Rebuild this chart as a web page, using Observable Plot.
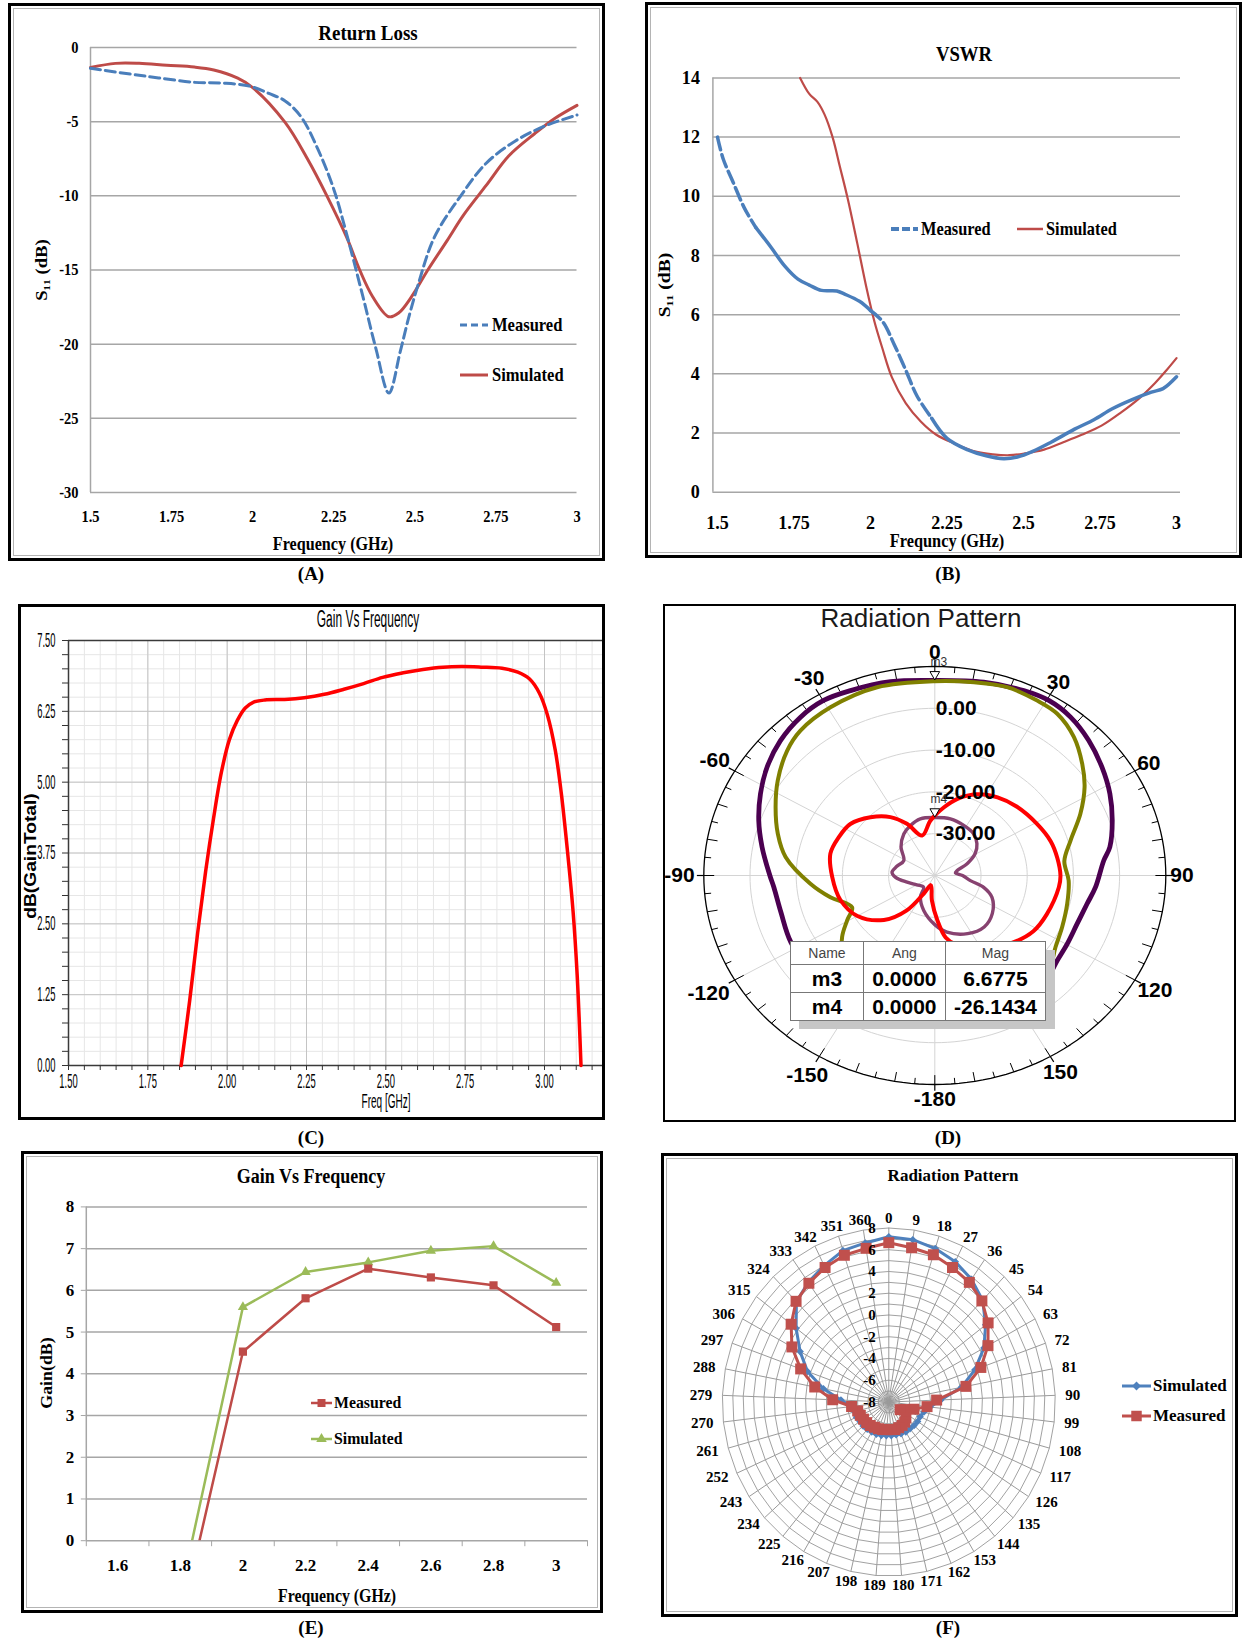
<!DOCTYPE html>
<html>
<head>
<meta charset="utf-8">
<script src="https://cdn.jsdelivr.net/npm/d3@7"></script>
<script src="https://cdn.jsdelivr.net/npm/@observablehq/plot@0.6"></script>
<style>
html, body { margin: 0; padding: 0; background: #fff; }
body { position: relative; width: 1243px; height: 1641px; overflow: hidden; }
.t { position: absolute; white-space: nowrap; line-height: 1; color: #000; }
</style>
</head>
<body>
<script>
// ================= DATA =================
// (A) Return loss
const rlFreqTicks = [1.5, 1.75, 2, 2.25, 2.5, 2.75, 3];
const rlDbTicks = [0, -5, -10, -15, -20, -25, -30];
const rlMeasFreq = [1.5, 1.625, 1.71, 1.82, 1.905, 1.99, 2.05, 2.1, 2.15, 2.2, 2.25, 2.29, 2.34, 2.38, 2.42, 2.455, 2.48, 2.51, 2.56, 2.64, 2.72, 2.81, 2.9, 3.0];
const rlMeasDb = [-1.4, -1.8, -2.05, -2.35, -2.4, -2.6, -3.1, -3.6, -4.7, -6.8, -9.55, -12.6, -16.8, -20.3, -23.3, -20.5, -18.3, -16.0, -12.8, -10.05, -7.8, -6.3, -5.3, -4.55];
const rlSimFreq = [1.5, 1.577, 1.65, 1.735, 1.82, 1.88, 1.954, 2.0, 2.1, 2.17, 2.23, 2.29, 2.33, 2.37, 2.42, 2.45, 2.49, 2.54, 2.6, 2.65, 2.72, 2.79, 2.87, 2.93, 3.0];
const rlSimDb = [-1.35, -1.07, -1.07, -1.2, -1.32, -1.52, -2.07, -2.7, -5.05, -7.55, -10.05, -12.8, -15.0, -16.8, -18.15, -17.9, -16.8, -15.0, -13.0, -11.3, -9.3, -7.3, -5.8, -4.8, -3.9];

// (B) VSWR
const vswrFreqTicks = [1.5, 1.75, 2, 2.25, 2.5, 2.75, 3];
const vswrTicks = [0, 2, 4, 6, 8, 10, 12, 14];
const vswrMeasFreq = [1.5, 1.519, 1.55, 1.588, 1.625, 1.676, 1.72, 1.763, 1.80, 1.84, 1.89, 1.914, 1.964, 2.0, 2.04, 2.077, 2.115, 2.152, 2.2, 2.25, 2.316, 2.378, 2.435, 2.48, 2.53, 2.59, 2.667, 2.73, 2.79, 2.855, 2.918, 2.956, 3.0];
const vswrMeasVal = [12.0, 11.25, 10.5, 9.6, 8.95, 8.26, 7.64, 7.2, 7.0, 6.82, 6.8, 6.7, 6.45, 6.14, 5.76, 5.0, 4.13, 3.25, 2.5, 1.82, 1.44, 1.23, 1.13, 1.19, 1.38, 1.69, 2.13, 2.45, 2.82, 3.13, 3.38, 3.5, 3.9];
const vswrSimFreq = [1.77, 1.80, 1.826, 1.85, 1.876, 1.90, 1.926, 1.957, 1.987, 2.013, 2.038, 2.07, 2.115, 2.165, 2.215, 2.278, 2.34, 2.40, 2.454, 2.504, 2.567, 2.63, 2.69, 2.755, 2.818, 2.88, 2.93, 2.968, 3.0];
const vswrSimVal = [14.0, 13.46, 13.2, 12.76, 12.0, 11.0, 9.9, 8.4, 6.9, 5.76, 4.89, 3.88, 3.01, 2.38, 1.94, 1.63, 1.38, 1.28, 1.25, 1.31, 1.44, 1.69, 1.94, 2.25, 2.69, 3.19, 3.69, 4.13, 4.53];

// (C) Simulated gain vs frequency (HFSS)
const hfssFreqTicks = [1.5, 1.75, 2, 2.25, 2.5, 2.75, 3];
const hfssGainTicks = [0, 1.25, 2.5, 3.75, 5, 6.25, 7.5];
const hfssFreq = [1.855, 1.882, 1.907, 1.932, 1.957, 1.982, 2.007, 2.032, 2.057, 2.082, 2.119, 2.181, 2.243, 2.306, 2.368, 2.43, 2.49, 2.555, 2.617, 2.68, 2.74, 2.80, 2.866, 2.916, 2.953, 2.984, 3.009, 3.034, 3.053, 3.071, 3.09, 3.103, 3.115];
const hfssGain = [0, 1.15, 2.34, 3.42, 4.36, 5.18, 5.75, 6.09, 6.31, 6.41, 6.45, 6.46, 6.49, 6.55, 6.64, 6.74, 6.85, 6.93, 6.99, 7.03, 7.04, 7.03, 7.01, 6.94, 6.82, 6.57, 6.19, 5.56, 4.8, 3.86, 2.72, 1.59, 0];

// (D) HFSS radiation pattern (dB, angle in degrees, clockwise from top)
const patRange = [-40, 10];
const patRingLevels = [-30, -20, -10, 0];
const patRingLabels = ["-30.00", "-20.00", "-10.00", "0.00"];
const patAngleLabels = [0, 30, 60, 90, 120, 150, -180, -150, -120, -90, -60, -30];
const patTotalAng = [-180, -166, -150, -135, -117, -104.8, -94.6, -90, -79.7, -71, -62.6, -54.5, -46, -37.5, -29.9, -22.4, -11.7, 0, 12.9, 23.5, 30.5, 37.8, 45.9, 54.4, 62.7, 71.1, 79.8, 84.4, 94.6, 101.6, 110.6, 119.7, 127.5, 135.5, 147, 160, 170];
const patTotalDb = [-4.0, -3.5, -3.5, -4.0, -5.0, -5.55, -5.05, -4.3, -2.0, 0.3, 2.5, 4.6, 6.45, 7.75, 8.3, 7.85, 7.35, 6.68, 7.45, 8.25, 8.6, 7.95, 6.4, 4.5, 2.65, 0.6, -1.5, -3.25, -5.1, -6.35, -7.1, -7.0, -6.6, -5.35, -4.5, -3.75, -3.5];
const patPhiAng = [-180, -165, -150, -135, -126.3, -119.5, -113, -103, -94.2, -82.2, -73.7, -64.6, -56.2, -46.9, -40, -29.3, -15.5, 0, 10.4, 19.2, 27.9, 34.4, 42.3, 50.1, 56.9, 64.9, 74.1, 83, 92.4, 103.3, 114.1, 123.3, 132.6, 145, 160];
const patPhiDb = [-4.25, -5.5, -8.0, -12.0, -15.1, -18.2, -20.55, -16.8, -13.0, -7.4, -4.6, -1.85, 0.9, 3.75, 5.25, 6.15, 6.75, 6.5, 7.0, 7.7, 7.35, 6.9, 4.75, 1.6, -1.3, -5.2, -9.45, -11.75, -11.0, -10.55, -9.8, -8.75, -6.45, -5.0, -4.5];
const patThetaAng = [-174, -160, -151, -144, -134, -120, -106, -91, -77, -66, -56, -45, -34.5, -26, -16, -4, 7, 15, 25, 36, 47, 61, 72, 81, 90, 96, 111, 122, 133, 151, 165, 171, 177];
const patThetaDb = [-34, -37.5, -35, -29.7, -24.7, -20.65, -18.75, -17.8, -16.8, -17.3, -17.95, -20.3, -23.05, -26.25, -30.05, -26.8, -23.55, -21.0, -18.55, -16.9, -15.8, -14.65, -13.6, -13.15, -12.8, -13.0, -14.05, -14.85, -16.6, -19.5, -23.0, -25.0, -29.25];
const patCrossAng = [-164, -149, -139, -120, -105, -93, -85, -75, -62, -47, -34, -24, -13, 0, 14, 28, 40, 50, 59, 68, 76, 82, 90, 99, 105, 113, 126, 139, 153, 169, 180];
const patCrossDb = [-31.3, -33.95, -36.3, -35.5, -33.8, -31.5, -30.7, -31.5, -32.4, -30.0, -28.0, -26.95, -26.1, -26.14, -26.05, -26.5, -26.95, -28.1, -29.8, -32.45, -35.0, -35.5, -34.0, -32.2, -29.05, -26.55, -24.6, -23.7, -24.4, -26.2, -28.25];
const markerNames = ["m3", "m4"];
const markerAng = [0, 0];
const markerMag = [6.6775, -26.1434];

// (E) Gain vs frequency, measured / simulated
const gainFreqTicks = [1.6, 1.8, 2, 2.2, 2.4, 2.6, 2.8, 3];
const gainTicks = [0, 1, 2, 3, 4, 5, 6, 7, 8];
const gainFreq = [1.8, 2, 2.2, 2.4, 2.6, 2.8, 3];
const gainMeas = [-2.0, 4.53, 5.81, 6.52, 6.31, 6.12, 5.12];
const gainSim = [-1.3, 5.6, 6.44, 6.67, 6.95, 7.06, 6.18];

// (F) Radiation pattern (radar), 41 categories
const radAngles = [0, 9, 18, 27, 36, 45, 54, 63, 72, 81, 90, 99, 108, 117, 126, 135, 144, 153, 162, 171, 180, 189, 198, 207, 216, 225, 234, 243, 252, 261, 270, 279, 288, 297, 306, 315, 324, 333, 342, 351, 360];
const radTicks = [-8, -6, -4, -2, 0, 2, 4, 6, 8];
const radSim = [7.2, 7.1, 6.8, 6.4, 5.8, 5.0, 3.7, 2.4, 0.8, -0.9, -3.0, -4.0, -4.5, -4.7, -4.7, -4.75, -4.8, -4.8, -4.85, -4.9, -4.9, -4.9, -4.85, -4.8, -4.8, -4.75, -4.7, -4.7, -4.6, -4.6, -4.4, -3.4, -1.6, 0.3, 1.7, 3.2, 4.8, 5.45, 6.0, 6.6, 6.8];
const radMeas = [6.65, 6.35, 6.2, 5.8, 5.45, 4.9, 4.0, 2.85, 1.4, -0.45, -3.4, -4.3, -5.5, -6.3, -6.7, -5.8, -5.6, -5.5, -5.45, -5.4, -5.45, -5.45, -5.4, -5.35, -5.3, -5.2, -5.15, -5.1, -5.0, -4.9, -4.4, -2.6, -0.75, 1.0, 2.6, 3.8, 4.85, 5.35, 5.8, 6.15, 6.3];

// ================= HELPERS =================
const SERIF = "'Liberation Serif', 'Times New Roman', serif";
const SANS = "'Liberation Sans', Arial, sans-serif";
function place(svg, x, y) {
  svg.style.position = "absolute"; svg.style.left = x + "px"; svg.style.top = y + "px";
  svg.style.maxWidth = "none";
  document.body.appendChild(svg);
}
function condense(svg, s) {
  svg.querySelectorAll("text").forEach(t => {
    const tr = t.getAttribute("transform");
    if (tr && tr.includes("translate")) t.setAttribute("transform", tr + ` scale(${s},1)`);
  });
  return svg;
}
function frame(x, y, w, h, bw, inner) {
  const d = document.createElement("div");
  d.style.cssText = `position:absolute;left:${x}px;top:${y}px;width:${w}px;height:${h}px;border:${bw}px solid #000;box-sizing:border-box;pointer-events:none;`;
  if (inner) {
    const i = document.createElement("div");
    i.style.cssText = "position:absolute;left:2px;top:2px;right:2px;bottom:2px;border:1px solid #b4b4b4;";
    d.appendChild(i);
  }
  document.body.appendChild(d);
}
function label(str, x, y, css, opts = {}) {
  const d = document.createElement("div");
  d.className = "t";
  d.textContent = str;
  const tx = opts.anchor === "start" ? "0" : "-50%";
  d.style.cssText += `left:${x}px;top:${y}px;transform:translate(${tx},-50%)${opts.rotate ? ` rotate(${opts.rotate}deg)` : ""}${opts.sx ? ` scaleX(${opts.sx})` : ""};transform-origin:${opts.anchor === "start" ? "left" : "center"} center;${css}`;
  document.body.appendChild(d);
}
function swatch(x1, x2, y, color, sw, dash, symbol, size) {
  const w = x2 - x1;
  const s = d3.create("svg").attr("width", w + 16).attr("height", 24)
    .style("position", "absolute").style("left", (x1 - 8) + "px").style("top", (y - 12) + "px");
  s.append("line").attr("x1", 8).attr("x2", w + 8).attr("y1", 12).attr("y2", 12)
    .attr("stroke", color).attr("stroke-width", sw).attr("stroke-dasharray", dash || null);
  if (symbol) s.append("path").attr("d", d3.symbol(symbol, size)()).attr("transform", `translate(${w / 2 + 8},12)`).attr("fill", color);
  document.body.appendChild(s.node());
}
const baseStyle = (fam, size, weight) => ({fontFamily: fam, fontSize: size + "px", fontWeight: weight, background: "transparent", overflow: "visible", color: "#000"});
const GRID = "#a6a6a6";
const BLUE = "#4a7ebb", RED = "#be4b48";

// ================= (A) =================
place(condense(Plot.plot({
  width: 597, height: 558, marginLeft: 82, marginRight: 28.5, marginTop: 44, marginBottom: 69,
  x: {domain: [1.5, 3]}, y: {domain: [-30, 0]},
  style: baseStyle(SERIF, 17, "bold"),
  marks: [
    Plot.ruleY(rlDbTicks, {stroke: GRID, strokeWidth: 1.5}),
    Plot.ruleX([1.5], {stroke: GRID, strokeWidth: 1.5}),
    Plot.axisX(rlFreqTicks, {tickSize: 0, tickPadding: 17, tickFormat: d => String(d), label: null}),
    Plot.axisY(rlDbTicks, {tickSize: 0, tickPadding: 12, tickFormat: d => String(d), label: null}),
    Plot.line(rlSimDb, {x: rlSimFreq, y: rlSimDb, stroke: RED, strokeWidth: 3, curve: "catmull-rom"}),
    Plot.line(rlMeasDb, {x: rlMeasFreq, y: rlMeasDb, stroke: BLUE, strokeWidth: 3, strokeDasharray: "10,5", curve: "catmull-rom"})
  ]
}), 0.85), 8, 3);
frame(8, 3, 597, 558, 3, true);
label("Return Loss", 368, 33, `font:bold 22px ${SERIF};`, {sx: 0.86});
label("Frequency (GHz)", 333, 544, `font:bold 19px ${SERIF};`, {sx: 0.85});
label("S\u2081\u2081 (dB)", 42, 270, `font:bold 17px ${SERIF};`, {rotate: -90, sx: 1.1});
swatch(460, 488, 325, BLUE, 3, "7,4");
label("Measured", 492, 325, `font:bold 19px ${SERIF};`, {anchor: "start", sx: 0.87});
swatch(460, 488, 375, RED, 3);
label("Simulated", 492, 375, `font:bold 19px ${SERIF};`, {anchor: "start", sx: 0.87});

// ================= (B) =================
const bDash = x => x <= 1.63 || (x >= 2.0 && x <= 2.21);
const bSolid = x => (x >= 1.62 && x <= 2.0) || x >= 2.2;
place(condense(Plot.plot({
  width: 597, height: 556, marginLeft: 67.4, marginRight: 62, marginTop: 75.4, marginBottom: 66.3,
  x: {domain: [1.485, 3.013]}, y: {domain: [0, 14]},
  style: baseStyle(SERIF, 19, "bold"),
  marks: [
    Plot.ruleY(vswrTicks, {stroke: GRID, strokeWidth: 1.5}),
    Plot.ruleX([1.485], {stroke: GRID, strokeWidth: 1.5}),
    Plot.axisX(vswrFreqTicks, {tickSize: 0, tickPadding: 23, tickFormat: d => String(d), label: null}),
    Plot.axisY(vswrTicks, {tickSize: 0, tickPadding: 13, tickFormat: d => String(d), label: null}),
    Plot.line(vswrSimVal, {x: vswrSimFreq, y: vswrSimVal, stroke: RED, strokeWidth: 2.2, curve: "catmull-rom"}),
    Plot.line(vswrMeasVal, {x: vswrMeasFreq, y: (d, i) => bSolid(vswrMeasFreq[i]) ? d : NaN, stroke: BLUE, strokeWidth: 3.5, curve: "catmull-rom"}),
    Plot.line(vswrMeasVal, {x: vswrMeasFreq, y: (d, i) => bDash(vswrMeasFreq[i]) ? d : NaN, stroke: BLUE, strokeWidth: 3.5, strokeDasharray: "13,5", curve: "catmull-rom"})
  ]
}), 0.95), 645, 2);
frame(645, 2, 597, 556, 3, true);
label("VSWR", 964, 54, `font:bold 22px ${SERIF};`, {sx: 0.85});
label("Frequncy (GHz)", 947, 541, `font:bold 19px ${SERIF};`, {sx: 0.86});
label("S\u2081\u2081 (dB)", 665, 285, `font:bold 17px ${SERIF};`, {rotate: -90, sx: 1.15});
swatch(891, 918, 229, BLUE, 4, "8,3");
label("Measured", 921, 229, `font:bold 19px ${SERIF};`, {anchor: "start", sx: 0.86});
swatch(1017, 1043, 229, RED, 2.5);
label("Simulated", 1046, 229, `font:bold 19px ${SERIF};`, {anchor: "start", sx: 0.86});

// ================= (C) =================
const cXMinor = d3.range(30, 64).map(i => i / 20);
const cYMinor = d3.range(0, 31).map(i => i / 4);
place(condense(Plot.plot({
  width: 587, height: 516, marginLeft: 50, marginRight: 0.7, marginTop: 36, marginBottom: 55,
  x: {domain: [1.5, 3.19]}, y: {domain: [0, 7.5]},
  style: baseStyle(SANS, 20, "normal"),
  marks: [
    Plot.ruleX(cXMinor, {stroke: "#e6e6e6"}),
    Plot.ruleY(cYMinor, {stroke: "#e6e6e6"}),
    Plot.ruleX(hfssFreqTicks, {stroke: "#c4c4c4"}),
    Plot.ruleY(hfssGainTicks, {stroke: "#c4c4c4"}),
    Plot.ruleY([7.5], {stroke: "#3a3a3a", strokeWidth: 1.5}),
    Plot.ruleY([0], {stroke: "#3a3a3a", strokeWidth: 1.5}),
    Plot.ruleX([1.5], {stroke: "#3a3a3a", strokeWidth: 1.5}),
    Plot.axisY(cYMinor, {tickSize: 6, tickFormat: () => "", stroke: "#333", label: null}),
    Plot.axisX(cXMinor, {tickSize: 5, tickFormat: () => "", stroke: "#333", label: null}),
    Plot.axisY(hfssGainTicks, {tickSize: 0, tickPadding: 13, tickFormat: d => d.toFixed(2), label: null}),
    Plot.axisX(hfssFreqTicks, {tickSize: 0, tickPadding: 8, tickFormat: d => d.toFixed(2), label: null}),
    Plot.line(hfssGain, {x: hfssFreq, y: hfssGain, stroke: "#ff0000", strokeWidth: 3.5, curve: "catmull-rom"})
  ]
}), 0.47), 18, 604);
frame(18, 604, 587, 516, 3, false);
label("Gain Vs Frequency", 368, 619, `font:23px ${SANS};`, {sx: 0.52});
label("Freq [GHz]", 386, 1101, `font:20px ${SANS};`, {sx: 0.5});
label("dB(GainTotal)", 31, 856, `font:bold 16px ${SANS};`, {rotate: -90, sx: 1.2});

// ================= (D) =================
const pN = (ang, rn) => ({x: rn * Math.sin(ang * Math.PI / 180), y: rn * Math.cos(ang * Math.PI / 180)});
const pNorm = db => (db - patRange[0]) / (patRange[1] - patRange[0]);
const pDb = (ang, db) => pN(ang, pNorm(db));
const circ = rn => d3.range(0, 361, 2).map(a => pN(a, rn));
const patCurve = (angs, dbs) => angs.map((a, i) => pDb(a, dbs[i]));
const patLabelR = a => 1.07 + Math.abs(Math.sin(a * Math.PI / 180)) * (String(a).length - 2) * 0.035;
place(Plot.plot({
  width: 573, height: 518, marginLeft: 40.3, marginRight: 70.7, marginTop: 62, marginBottom: 38,
  x: {domain: [-1, 1], axis: null}, y: {domain: [-1, 1], axis: null},
  style: baseStyle(SANS, 21, "bold"),
  marks: [
    ...patRingLevels.map(l => Plot.line(circ(pNorm(l)), {x: "x", y: "y", stroke: "#d4d4d4", strokeWidth: 1})),
    Plot.link(d3.range(0, 360, 30), {x1: 0, y1: 0, x2: a => pN(a, 1).x, y2: a => pN(a, 1).y, stroke: "#d4d4d4", strokeWidth: 1}),
    Plot.line(circ(1), {x: "x", y: "y", stroke: "#000", strokeWidth: 1.3}),
    Plot.link(d3.range(0, 360, 5), {x1: a => pN(a, 1).x, y1: a => pN(a, 1).y, x2: a => pN(a, a % 10 === 0 ? 0.955 : 0.972).x, y2: a => pN(a, a % 10 === 0 ? 0.955 : 0.972).y, stroke: "#000", strokeWidth: 1}),
    Plot.link(d3.range(0, 360, 30), {x1: a => pN(a, 1).x, y1: a => pN(a, 1).y, x2: a => pN(a, 1.03).x, y2: a => pN(a, 1.03).y, stroke: "#000", strokeWidth: 1.2}),
    Plot.line(patCurve(patTotalAng, patTotalDb), {x: "x", y: "y", stroke: "#4b0050", strokeWidth: 4.8, curve: "catmull-rom-closed"}),
    Plot.line(patCurve(patPhiAng, patPhiDb), {x: "x", y: "y", stroke: "#808000", strokeWidth: 4, curve: "catmull-rom-closed"}),
    Plot.line(patCurve(patCrossAng, patCrossDb), {x: "x", y: "y", stroke: "#874270", strokeWidth: 3.4, curve: "catmull-rom-closed"}),
    Plot.line(patCurve(patThetaAng, patThetaDb), {x: "x", y: "y", stroke: "#ff0000", strokeWidth: 4, curve: "catmull-rom-closed"}),
    Plot.text(patRingLevels, {x: 0, y: l => pNorm(l), text: (l, i) => patRingLabels[i], textAnchor: "start", dx: 1, fontSize: 21, fontWeight: "bold", fill: "#000"}),
    Plot.text(patAngleLabels, {x: a => pN(a, patLabelR(a)).x, y: a => pN(a, patLabelR(a)).y, text: a => String(a), fontSize: 21, fontWeight: "bold", fill: "#000"}),
    Plot.dot(markerMag, {x: (d, i) => pDb(markerAng[i], d).x, y: (d, i) => pDb(markerAng[i], d).y, symbol: "triangle", rotate: 180, r: 3.6, fill: "#fff", stroke: "#000", strokeWidth: 1, dy: -6}),
    Plot.text(markerNames, {x: (d, i) => pDb(markerAng[i], markerMag[i]).x, y: (d, i) => pDb(markerAng[i], markerMag[i]).y, text: d => d, dy: -18, dx: 4, fontSize: 12, fontWeight: "normal", fill: "#333"})
  ]
}), 663, 604);
// marker table
(function () {
  const wrap = document.createElement("div");
  wrap.style.cssText = "position:absolute;left:790px;top:941px;width:256px;height:79px;";
  const cols = [74, 82, 100];
  let h = `<div style="position:absolute;left:9px;top:9px;width:256px;height:79px;background:#c6c6c6;"></div>`;
  h += `<table style="position:absolute;left:0;top:0;width:256px;border-collapse:collapse;background:#fff;font-family:${SANS};border:1.5px solid #444;">`;
  h += `<tr style="height:23px;">` + ["Name", "Ang", "Mag"].map((s, i) => `<td style="width:${cols[i]}px;border:1px solid #777;text-align:center;font-size:14px;color:#444;padding:0;">${s}</td>`).join("") + `</tr>`;
  markerNames.forEach((n, i) => {
    h += `<tr style="height:28px;">` + [n, markerAng[i].toFixed(4), markerMag[i].toFixed(4)].map(s => `<td style="border:1px solid #777;text-align:center;font-size:21px;font-weight:bold;padding:0;">${s}</td>`).join("") + `</tr>`;
  });
  h += `</table>`;
  wrap.innerHTML = h;
  document.body.appendChild(wrap);
})();
frame(663, 604, 573, 518, 2, false);
label("Radiation Pattern", 921, 618, `font:26px ${SANS};color:#1a1a1a;`);

// ================= (E) =================
const eBounds = d3.range(0, 9).map(i => 1.5 + i * 0.2);
place(Plot.plot({
  width: 582, height: 462, marginLeft: 64.8, marginRight: 16, marginTop: 55.4, marginBottom: 72.8,
  x: {domain: [1.5, 3.1]}, y: {domain: [0, 8]},
  style: baseStyle(SERIF, 17, "bold"),
  marks: [
    Plot.ruleY(gainTicks, {stroke: GRID, strokeWidth: 1.5}),
    Plot.ruleX([1.5], {stroke: GRID, strokeWidth: 1.5}),
    Plot.axisY(gainTicks, {tickSize: 5, stroke: GRID, tickPadding: 7, tickFormat: d => String(d), label: null}),
    Plot.axisX(eBounds, {tickSize: 6, stroke: GRID, tickFormat: () => "", label: null}),
    Plot.axisX(gainFreqTicks, {tickSize: 0, tickPadding: 18, tickFormat: d => String(d), label: null}),
    Plot.line(gainSim, {x: gainFreq, y: gainSim, stroke: "#9bbb59", strokeWidth: 2.5, clip: true}),
    Plot.line(gainMeas, {x: gainFreq, y: gainMeas, stroke: RED, strokeWidth: 2.5, clip: true}),
    Plot.dot(gainSim, {x: gainFreq, y: gainSim, symbol: "triangle", r: 3.8, fill: "#9bbb59", clip: true}),
    Plot.dot(gainMeas, {x: gainFreq, y: gainMeas, symbol: "square", r: 4.6, fill: RED, clip: true})
  ]
}), 21, 1151);
frame(21, 1151, 582, 462, 3, true);
label("Gain Vs Frequency", 311, 1176, `font:bold 20px ${SERIF};`, {sx: 0.9});
label("Frequency (GHz)", 337, 1596, `font:bold 18px ${SERIF};`, {sx: 0.88});
label("Gain(dB)", 47, 1373, `font:bold 17px ${SERIF};`, {rotate: -90, sx: 1.05});
swatch(311, 332, 1403, RED, 2.5, null, d3.symbolSquare, 64);
label("Measured", 334, 1403, `font:bold 17px ${SERIF};`, {anchor: "start", sx: 0.93});
swatch(311, 332, 1439, "#9bbb59", 2.5, null, d3.symbolTriangle, 48);
label("Simulated", 334, 1439, `font:bold 17px ${SERIF};`, {anchor: "start", sx: 0.93});

// ================= (F) =================
const fRange = [-8, 8];
const fK = radAngles.length;
const fA = k => k * 2 * Math.PI / fK;
const fN = (k, rn) => ({x: rn * Math.sin(fA(k)), y: rn * Math.cos(fA(k))});
const fNorm = v => (v - fRange[0]) / (fRange[1] - fRange[0]);
const fRings = d3.range(-7, 9);
const fRing = l => d3.range(fK + 1).map(k => fN(k % fK, fNorm(l)));
const fLab = (k, s) => ({x: Math.sin(fA(k)) * (1 + (s.length * 3.8 + 10) / 166.5), y: Math.cos(fA(k)) * (1 + 10 / 174)});
place(Plot.plot({
  width: 577, height: 464, marginLeft: 60.8, marginRight: 183.2, marginTop: 74.5, marginBottom: 41.5,
  x: {domain: [-1, 1], axis: null}, y: {domain: [-1, 1], axis: null},
  style: baseStyle(SERIF, 15, "bold"),
  marks: [
    ...fRings.map(l => Plot.line(fRing(l), {x: "x", y: "y", stroke: "#a2a2a2", strokeWidth: 1})),
    Plot.link(d3.range(fK), {x1: 0, y1: 0, x2: k => fN(k, 1).x, y2: k => fN(k, 1).y, stroke: "#9a9a9a", strokeWidth: 1}),
    Plot.line(radSim, {x: (d, k) => fN(k, fNorm(d)).x, y: (d, k) => fN(k, fNorm(d)).y, stroke: "#4f81bd", strokeWidth: 3, curve: "linear-closed"}),
    Plot.dot(radSim, {x: (d, k) => fN(k, fNorm(d)).x, y: (d, k) => fN(k, fNorm(d)).y, symbol: "diamond2", r: 3.4, fill: "#4f81bd"}),
    Plot.line(radMeas, {x: (d, k) => fN(k, fNorm(d)).x, y: (d, k) => fN(k, fNorm(d)).y, stroke: "#c0504d", strokeWidth: 3, curve: "linear-closed"}),
    Plot.dot(radMeas, {x: (d, k) => fN(k, fNorm(d)).x, y: (d, k) => fN(k, fNorm(d)).y, symbol: "square", r: 6.2, fill: "#c0504d"}),
    Plot.text(radTicks, {x: 0, y: v => fNorm(v), text: v => String(v), textAnchor: "end", dx: -13, fontSize: 15, fontWeight: "bold", fill: "#000"}),
    Plot.text(radAngles, {x: (d, k) => fLab(k, String(d)).x, y: (d, k) => fLab(k, String(d)).y, text: d => String(d), fontSize: 15, fontWeight: "bold", fill: "#000"})
  ]
}), 661, 1153);
frame(661, 1153, 577, 464, 3, true);
label("Radiation Pattern", 953, 1176, `font:bold 17px ${SERIF};`);
swatch(1122, 1151, 1386, "#4f81bd", 3, null, d3.symbolDiamond2, 50);
label("Simulated", 1153, 1386, `font:bold 17px ${SERIF};`, {anchor: "start"});
swatch(1122, 1151, 1416, "#c0504d", 3, null, d3.symbolSquare, 110);
label("Measured", 1153, 1416, `font:bold 17px ${SERIF};`, {anchor: "start"});

// ================= Panel captions =================
[["(A)", 311, 574], ["(B)", 948, 574], ["(C)", 311, 1138], ["(D)", 948, 1138], ["(E)", 311, 1628], ["(F)", 948, 1628]]
  .forEach(([s, x, y]) => label(s, x, y, `font:bold 19px ${SERIF};`));
</script>
</body>
</html>
